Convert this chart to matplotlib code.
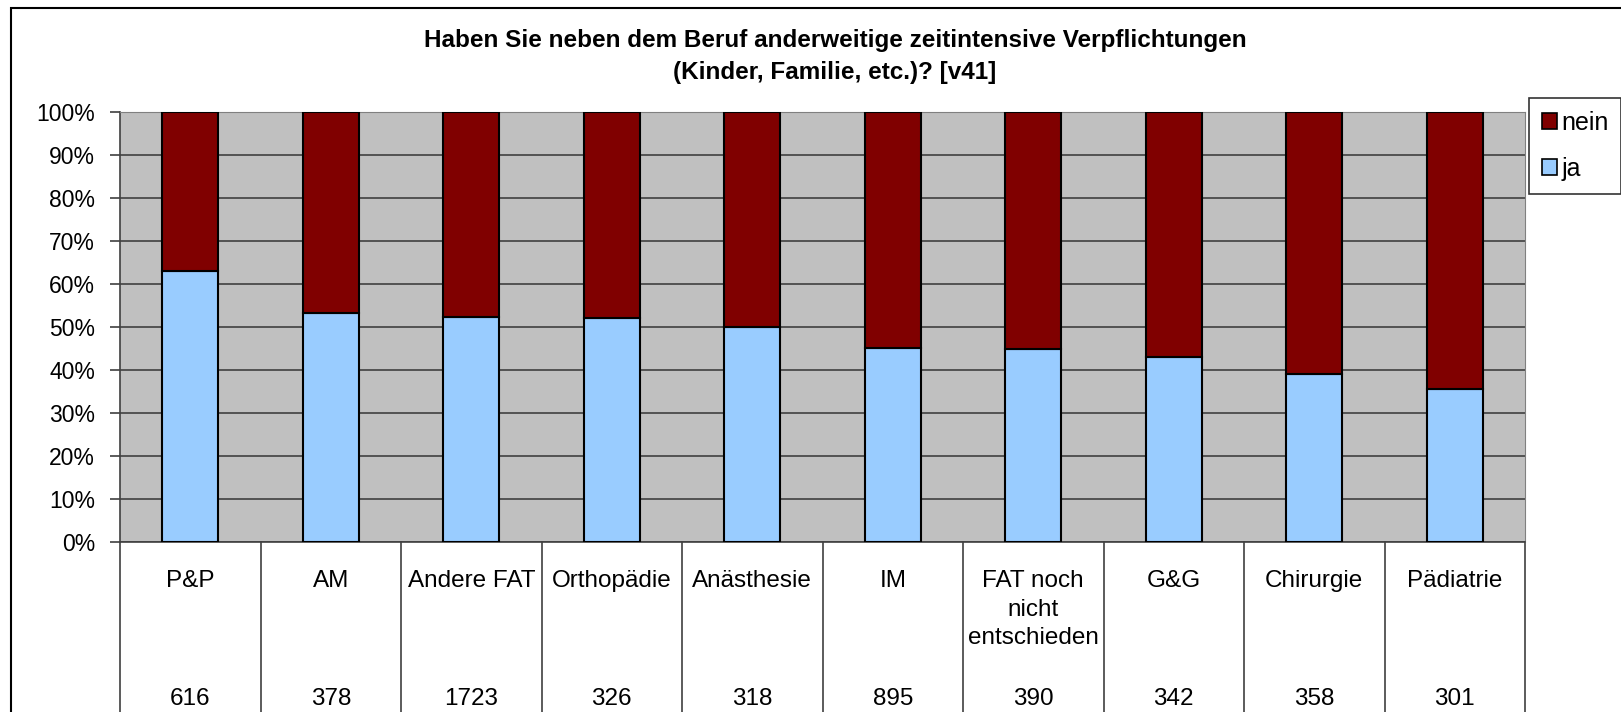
# Haben Sie neben dem Beruf anderweitige zeitintensive Verpflichtungen - gestapelte 100% Balken

import matplotlib.pyplot as plt
from matplotlib.patches import Rectangle, Patch

plt.rcParams['font.family'] = ['Liberation Sans', 'DejaVu Sans']

# categories and counts (n)
categories = ['P&P', 'AM', 'Andere FAT', 'Orthopädie', 'Anästhesie', 'IM',
              'FAT noch\nnicht\nentschieden', 'G&G', 'Chirurgie', 'Pädiatrie']
counts = [616, 378, 1723, 326, 318, 895, 390, 342, 358, 301]

# percentage "ja" per category (rest is "nein")
ja = [63.0, 53.2, 52.4, 52.0, 50.0, 45.1, 45.0, 43.0, 39.1, 35.6]
nein = [100 - v for v in ja]

W, H = 1621, 712
fig = plt.figure(figsize=(W / 100, H / 100), dpi=100)

# outer chart border (cut off at the right and bottom)
fig.patches.append(Rectangle((11 / W, -0.2), 2, 1.2 - 8 / H, transform=fig.transFigure,
                             fill=False, edgecolor='black', linewidth=1.5))

# plot area
left, right, top, bottom = 120, 1525, 112, 542
ax = fig.add_axes([left / W, 1 - bottom / H, (right - left) / W, (bottom - top) / H])
ax.set_facecolor('#C0C0C0')

x = list(range(len(categories)))
ax.bar(x, ja, width=0.4, color='#99CCFF', edgecolor='black', linewidth=1.5, zorder=3)
ax.bar(x, nein, bottom=ja, width=0.4, color='#800000', edgecolor='black', linewidth=1.5, zorder=3)

ax.set_xlim(-0.5, len(categories) - 0.5)
ax.set_ylim(0, 100)
ax.set_yticks(range(0, 101, 10))
ax.set_yticklabels([f'{t}%' for t in range(0, 101, 10)], fontsize=16.5)
ax.tick_params(axis='y', length=7, width=1.2, color='#404040', pad=11)
ax.set_xticks([])

# horizontal grid lines
ax.grid(axis='y', color='#404040', linewidth=1.2)
ax.set_axisbelow(True)

for s in ['top', 'right']:
    ax.spines[s].set_color('#808080')
ax.spines['left'].set_color('#404040')
ax.spines['bottom'].set_color('#404040')
ax.spines['left'].set_linewidth(1.2)
ax.spines['bottom'].set_linewidth(1.2)

# data table below the plot: separators, category names and n
tr = ax.get_xaxis_transform()
for k in range(len(categories) + 1):
    ax.plot([k - 0.5, k - 0.5], [0, -0.6], transform=tr,
            color='#404040', linewidth=1.2, clip_on=False)

line_step = 28.5 / (bottom - top)
for i, (cat, n) in enumerate(zip(categories, counts)):
    for j, part in enumerate(cat.split('\n')):
        ax.text(i, -0.091 - j * line_step, part, transform=tr, ha='center', va='center',
                fontsize=17.5)
    ax.text(i, -0.365, str(n), transform=tr, ha='center', va='center', fontsize=17.5)

# title
fig.text(835 / W, 1 - 41 / H, 'Haben Sie neben dem Beruf anderweitige zeitintensive Verpflichtungen',
         ha='center', va='center', fontsize=17.5, fontweight='bold')
fig.text(835 / W, 1 - 72 / H, '(Kinder, Familie, etc.)? [v41]',
         ha='center', va='center', fontsize=17.5, fontweight='bold')

# legend
handles = [Patch(facecolor='#800000', edgecolor='black', linewidth=1.2, label='nein'),
           Patch(facecolor='#99CCFF', edgecolor='black', linewidth=1.2, label='ja')]
leg = fig.legend(handles=handles, loc='upper left', bbox_to_anchor=(1529 / W, 1 - 98 / H),
                 fontsize=18, handlelength=0.6, handleheight=0.6, handletextpad=0.2,
                 labelspacing=0.9, borderpad=0.5, borderaxespad=0, fancybox=False)
leg.get_frame().set_edgecolor('black')
leg.get_frame().set_linewidth(1.2)

plt.savefig('out.png', dpi=100)
